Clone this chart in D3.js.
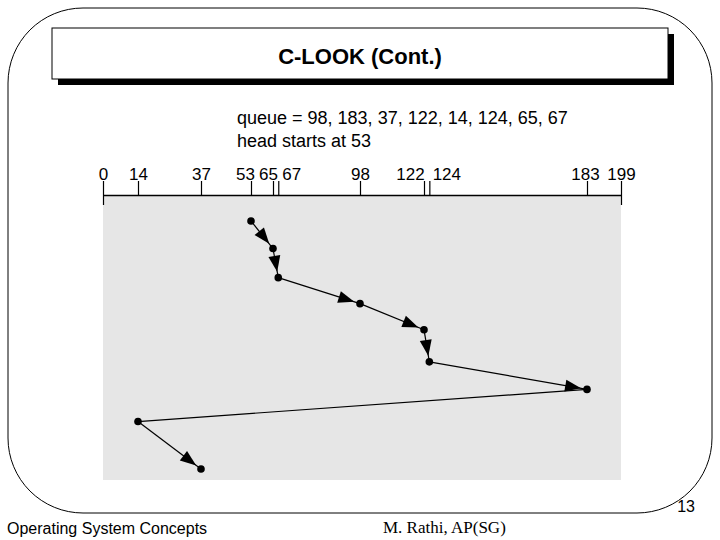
<!DOCTYPE html>
<html><head><meta charset="utf-8">
<script src="https://cdn.jsdelivr.net/npm/d3@7"></script>
<style>body{margin:0;background:#fff}svg{display:block}</style>
</head><body>
<svg id="c" width="720" height="540"></svg>
<script>
const cylinders = [53, 65, 67, 98, 122, 124, 183, 14, 37];
const steps = [0, 0.9, 1.85, 2.7, 3.55, 4.6, 5.5, 6.55, 8.1];
const tickValues = [0, 14, 37, 53, 65, 67, 98, 122, 124, 183, 199];
const queueText = "queue = 98, 183, 37, 122, 14, 124, 65, 67";
const headText = "head starts at 53";

const svg = d3.select('#c');
const sans = 'Liberation Sans, Arial, sans-serif';

// slide frame
svg.append('rect').attr('x', 8).attr('y', 8).attr('width', 704).attr('height', 505)
  .attr('rx', 75).attr('fill', 'none').attr('stroke', '#000').attr('stroke-width', 1);
svg.append('rect').attr('x', 58).attr('y', 34).attr('width', 616).attr('height', 51).attr('fill', '#000');
svg.append('rect').attr('x', 52).attr('y', 28).attr('width', 616).attr('height', 51)
  .attr('fill', '#fff').attr('stroke', '#000');
svg.append('text').attr('x', 360).attr('y', 64).attr('text-anchor', 'middle')
  .attr('font-family', sans).attr('font-weight', 'bold').attr('font-size', 22).text('C-LOOK (Cont.)');

svg.append('text').attr('x', 7).attr('y', 534).attr('font-family', sans).attr('font-size', 16).text('Operating System Concepts');
svg.append('text').attr('x', 383).attr('y', 533).attr('font-family', 'Liberation Serif, serif').attr('font-size', 17).text('M. Rathi, AP(SG)');
svg.append('text').attr('x', 695).attr('y', 512).attr('text-anchor', 'end').attr('font-family', sans).attr('font-size', 16).text('13');

// diagram
const x = d3.scaleLinear().domain([0, 14, 37, 53, 65, 98, 122, 183, 199])
  .range([103, 138, 201, 251, 273, 360, 424, 587, 621]);
const y = d3.scaleLinear().domain([0, 8.1]).range([221, 469]);
const yTop = 195, yBottom = 480;

svg.append('text').attr('x', 237).attr('y', 124).attr('font-family', sans).attr('font-size', 18).text(queueText);
svg.append('text').attr('x', 237).attr('y', 147).attr('font-family', sans).attr('font-size', 18).text(headText);

svg.append('rect').attr('x', x(0)).attr('y', yTop).attr('width', x(199) - x(0)).attr('height', yBottom - yTop).attr('fill', '#e6e6e6');

const axis = d3.axisTop(x).tickValues(tickValues).tickSize(14).tickSizeOuter(0).tickFormat(d3.format('d'));
const g = svg.append('g').attr('transform', `translate(0,${yTop})`).call(axis);
g.select('.domain').attr('stroke-width', 1.3);
g.selectAll('.tick line').attr('stroke-width', 1.2);
g.selectAll('.tick line').filter(d => d === 0 || d === 199).attr('y2', 10).attr('y1', -14);
g.selectAll('.tick text').attr('font-family', sans).attr('font-size', 17).attr('fill', '#000').attr('dy', '0.1em')
  .attr('dx', d => ({53: -6, 65: -5, 67: 13, 122: -14, 124: 17, 183: -2, 199: 0}[d] || 0));

const pts = cylinders.map((c, i) => [x(c), y(steps[i])]);
const segs = d3.pairs(pts);
svg.append('g').selectAll('line').data(segs).join('line')
  .attr('x1', d => d[0][0]).attr('y1', d => d[0][1]).attr('x2', d => d[1][0]).attr('y2', d => d[1][1])
  .attr('stroke', '#000').attr('stroke-width', 1.2);

// arrowheads just before each end point; the wrap-around jump has none
svg.append('g').selectAll('path').data(segs.filter(([a, b]) => b[0] > a[0] - 100)).join('path')
  .attr('d', 'M0,0 L-16,-6 L-16,6 Z').attr('fill', '#000')
  .attr('transform', ([a, b]) => {
    const len = Math.hypot(b[0] - a[0], b[1] - a[1]);
    const t = 1 - 6 / len;
    const px = a[0] + (b[0] - a[0]) * t, py = a[1] + (b[1] - a[1]) * t;
    const ang = Math.atan2(b[1] - a[1], b[0] - a[0]) * 180 / Math.PI;
    return `translate(${px},${py}) rotate(${ang})`;
  });

svg.append('g').selectAll('circle').data(pts).join('circle')
  .attr('cx', d => d[0]).attr('cy', d => d[1]).attr('r', 3.8).attr('fill', '#000');
</script>
</body></html>
